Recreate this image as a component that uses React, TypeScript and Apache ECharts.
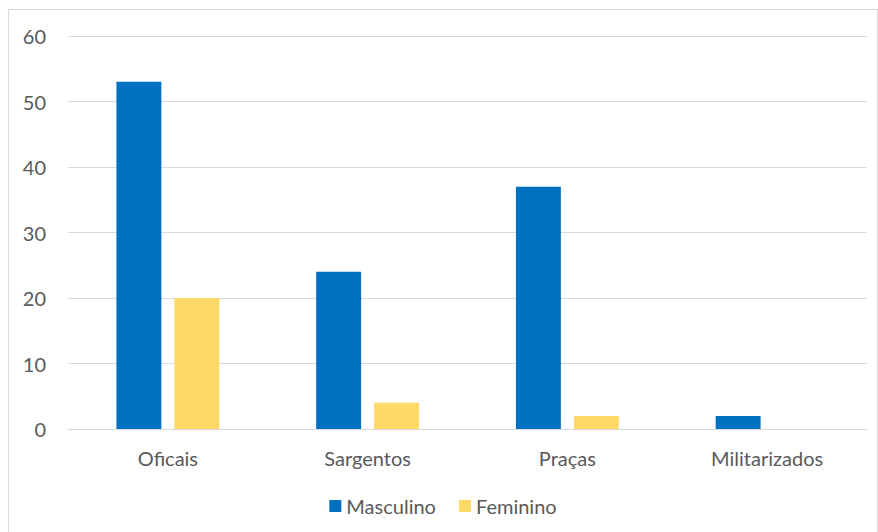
import React, { useEffect, useRef } from "react";
import * as echarts from "echarts";

const categories = ["Oficais", "Sargentos", "Praças", "Militarizados"];
const masculino = [53, 24, 37, 2];
const feminino = [20, 4, 2, 0];
const seriesNames = ["Masculino", "Feminino"];

export default function App() {
  const ref = useRef<HTMLDivElement>(null);
  useEffect(() => {
    if (!ref.current) return;
    const chart = echarts.init(ref.current, undefined, { renderer: "svg" });
    const font = "Lato, Calibri, sans-serif";
    chart.setOption({
      animation: false,
      grid: { left: 59, top: 26, right: 10, bottom: 103, containLabel: false },
      legend: {
        data: seriesNames,
        bottom: 11,
        left: "center",
        itemWidth: 12,
        itemHeight: 12,
        itemGap: 23,
        icon: "rect",
        textStyle: { color: "#595959", fontSize: 20, fontFamily: font },
      },
      xAxis: {
        type: "category",
        data: categories,
        axisLine: { lineStyle: { color: "#d9d9d9", width: 1 } },
        axisTick: { show: false },
        axisLabel: { color: "#595959", fontSize: 20, fontFamily: font, margin: 19 },
      },
      yAxis: {
        type: "value",
        min: 0,
        max: 60,
        interval: 10,
        axisLine: { show: false },
        axisTick: { show: false },
        splitLine: { lineStyle: { color: "#d9d9d9", width: 1 } },
        axisLabel: { color: "#595959", fontSize: 20, fontFamily: font, margin: 22 },
      },
      series: [
        {
          name: seriesNames[0],
          type: "bar",
          data: masculino,
          barWidth: "22.5%",
          barGap: "29%",
          itemStyle: { color: "#0070C0" },
        },
        {
          name: seriesNames[1],
          type: "bar",
          data: feminino,
          barWidth: "22.5%",
          itemStyle: { color: "#FFD966" },
        },
      ],
    });
    return () => chart.dispose();
  }, []);
  return (
    <div
      style={{
        position: "fixed",
        left: 8,
        top: 9,
        width: 868,
        height: 540,
        borderTop: "1px solid #d9d9d9",
        borderLeft: "1px solid #d9d9d9",
        borderRight: "1px solid #d9d9d9",
        background: "#fff",
      }}
    >
      <div ref={ref} style={{ width: 868, height: 522 }} />
    </div>
  );
}
